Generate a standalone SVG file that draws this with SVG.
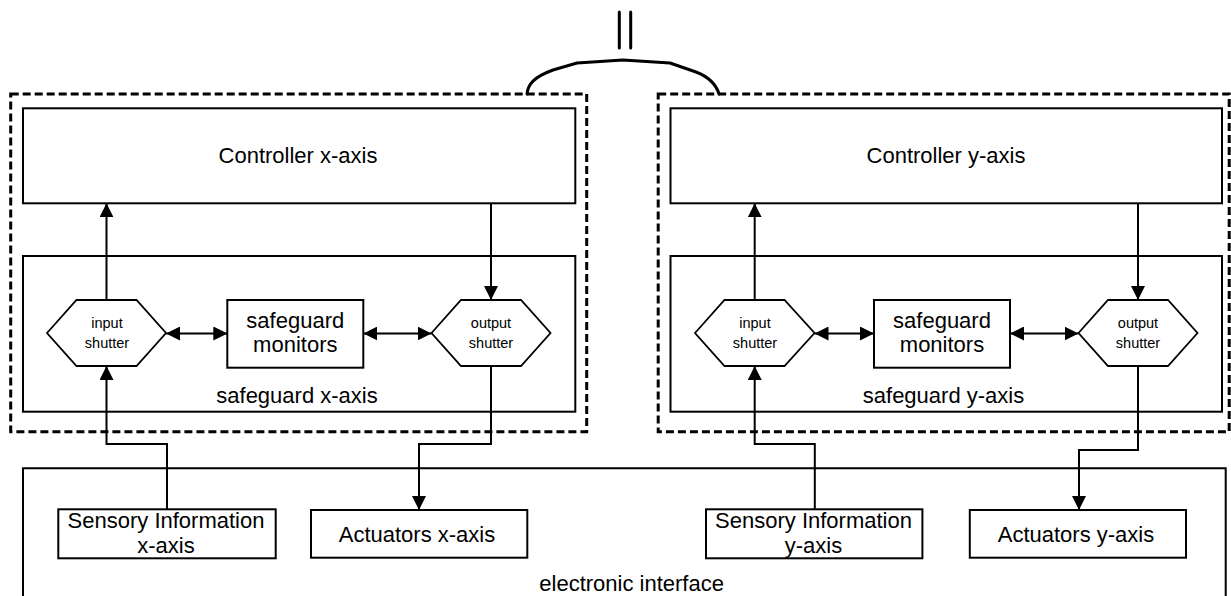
<svg xmlns="http://www.w3.org/2000/svg" width="1231" height="596" viewBox="0 0 1231 596">
  <style>
    .box { fill: none; stroke: #000; stroke-width: 2; }
    .hex { fill: #fff; stroke: #000; stroke-width: 1.8; }
    .domain { fill: none; stroke: #000; stroke-width: 3; stroke-dasharray: 8 4; }
    .wire { fill: none; stroke: #000; stroke-width: 2; }
    .arrow { marker-end: url(#head); }
    .both { marker-start: url(#head); marker-end: url(#head); }
    .brace { fill: none; stroke: #000; stroke-width: 3; stroke-linejoin: round; stroke-linecap: round; }
    text { font-family: "Liberation Sans", Arial, sans-serif; fill: #000; }
    .lbl { font-size: 22px; text-anchor: middle; }
    .sm { font-size: 14.5px; text-anchor: middle; }
  </style>
  <defs>
    <marker id="head" markerUnits="userSpaceOnUse" markerWidth="14" markerHeight="14" viewBox="0 0 13 13" refX="13" refY="6.5" orient="auto-start-reverse">
      <path d="M0,0 L13,6.5 L0,13 Z" fill="#000"/>
    </marker>
  </defs>

  <rect width="1231" height="596" fill="#fff"/>

  <!-- hardware layer -->
  <g id="electronic-interface">
    <path class="box" d="M23,600 V468.3 H1225.7 V600"/>
    <text x="539.3" y="590.5" style="font-size:22px">electronic interface</text>
  </g>
  <g id="sensory-x">
    <rect class="box" x="58.3" y="509.3" width="217.4" height="49"/>
    <text class="lbl" x="166" y="527.7">Sensory Information</text>
    <text class="lbl" x="166" y="553.3">x-axis</text>
  </g>
  <g id="actuators-x">
    <rect class="box" x="311" y="510" width="216.3" height="47.7"/>
    <text class="lbl" x="417" y="542.3">Actuators x-axis</text>
  </g>
  <g id="sensory-y">
    <rect class="box" x="706" y="509.3" width="216.4" height="49"/>
    <text class="lbl" x="813.5" y="527.7">Sensory Information</text>
    <text class="lbl" x="813.5" y="553.3">y-axis</text>
  </g>
  <g id="actuators-y">
    <rect class="box" x="969.8" y="510" width="216.2" height="47.7"/>
    <text class="lbl" x="1076" y="542.3">Actuators y-axis</text>
  </g>

  <!-- x-axis domain -->
  <g id="domain-x">
    <rect class="domain" x="10.7" y="94" width="576" height="337.7"/>
  </g>
  <g id="controller-x">
    <rect class="box" x="23" y="108.3" width="552.3" height="95"/>
    <text class="lbl" x="298" y="162.7">Controller x-axis</text>
  </g>
  <g id="safeguard-x">
    <rect class="box" x="23" y="256" width="552.3" height="155.7"/>
    <text class="lbl" x="297" y="403.3">safeguard x-axis</text>
  </g>
  <g id="input-shutter-x">
    <polygon class="hex" points="47,333 76.5,300 136.5,300 166,333 136.5,366 76.5,366"/>
    <text class="sm" x="107" y="328.3">input</text>
    <text class="sm" x="107" y="348.3">shutter</text>
  </g>
  <g id="monitors-x">
    <rect class="box" x="227.3" y="300" width="136" height="67.7"/>
    <text class="lbl" x="295.3" y="328.3">safeguard</text>
    <text class="lbl" x="295.3" y="351.7">monitors</text>
  </g>
  <g id="output-shutter-x">
    <polygon class="hex" points="431.5,333 461,300 521,300 550.5,333 521,366 461,366"/>
    <text class="sm" x="491" y="328.3">output</text>
    <text class="sm" x="491" y="348.3">shutter</text>
  </g>

  <!-- y-axis domain -->
  <g id="domain-y">
    <rect class="domain" x="658.2" y="94" width="571" height="337.7"/>
  </g>
  <g id="controller-y">
    <rect class="box" x="670.5" y="108.3" width="551.5" height="95"/>
    <text class="lbl" x="946" y="162.7">Controller y-axis</text>
  </g>
  <g id="safeguard-y">
    <rect class="box" x="670.5" y="256" width="551.5" height="155.7"/>
    <text class="lbl" x="943.5" y="403.3">safeguard y-axis</text>
  </g>
  <g id="input-shutter-y">
    <polygon class="hex" points="695,333 724.5,300 784.5,300 814.5,333 784.5,366 724.5,366"/>
    <text class="sm" x="755" y="328.3">input</text>
    <text class="sm" x="755" y="348.3">shutter</text>
  </g>
  <g id="monitors-y">
    <rect class="box" x="874" y="300" width="136" height="67.7"/>
    <text class="lbl" x="942" y="328.3">safeguard</text>
    <text class="lbl" x="942" y="351.7">monitors</text>
  </g>
  <g id="output-shutter-y">
    <polygon class="hex" points="1078.5,333 1108,300 1168,300 1197.5,333 1168,366 1108,366"/>
    <text class="sm" x="1138" y="328.3">output</text>
    <text class="sm" x="1138" y="348.3">shutter</text>
  </g>

  <!-- connectors -->
  <g id="connectors">
    <!-- x-axis -->
    <path class="wire arrow" d="M106.5,300 V203.3"/>
    <path class="wire arrow" d="M491,203.3 V300"/>
    <path class="wire both" d="M166,333.5 H227.3"/>
    <path class="wire both" d="M363.3,333.5 H431.5"/>
    <path class="wire arrow" d="M167,509.3 V444 H106.5 V366"/>
    <path class="wire arrow" d="M491,366 V444 H419 V510"/>
    <!-- y-axis -->
    <path class="wire arrow" d="M754.7,300 V203.3"/>
    <path class="wire arrow" d="M1138,203.3 V300"/>
    <path class="wire both" d="M814.5,333.5 H874"/>
    <path class="wire both" d="M1010,333.5 H1078.5"/>
    <path class="wire arrow" d="M814.8,509.3 V444 H754.7 V366"/>
    <path class="wire arrow" d="M1138,366 V450 H1079 V510"/>
    <!-- parallel link between the two domains -->
    <path class="brace" d="M527,94 C528,84 534,77 553,70 L577,63 L623,60 L670,63 L696,72 C709,77 716,84 719,94"/>
    <path class="brace" d="M619.3,12 V48 M630.7,12 V48"/>
  </g>
</svg>
